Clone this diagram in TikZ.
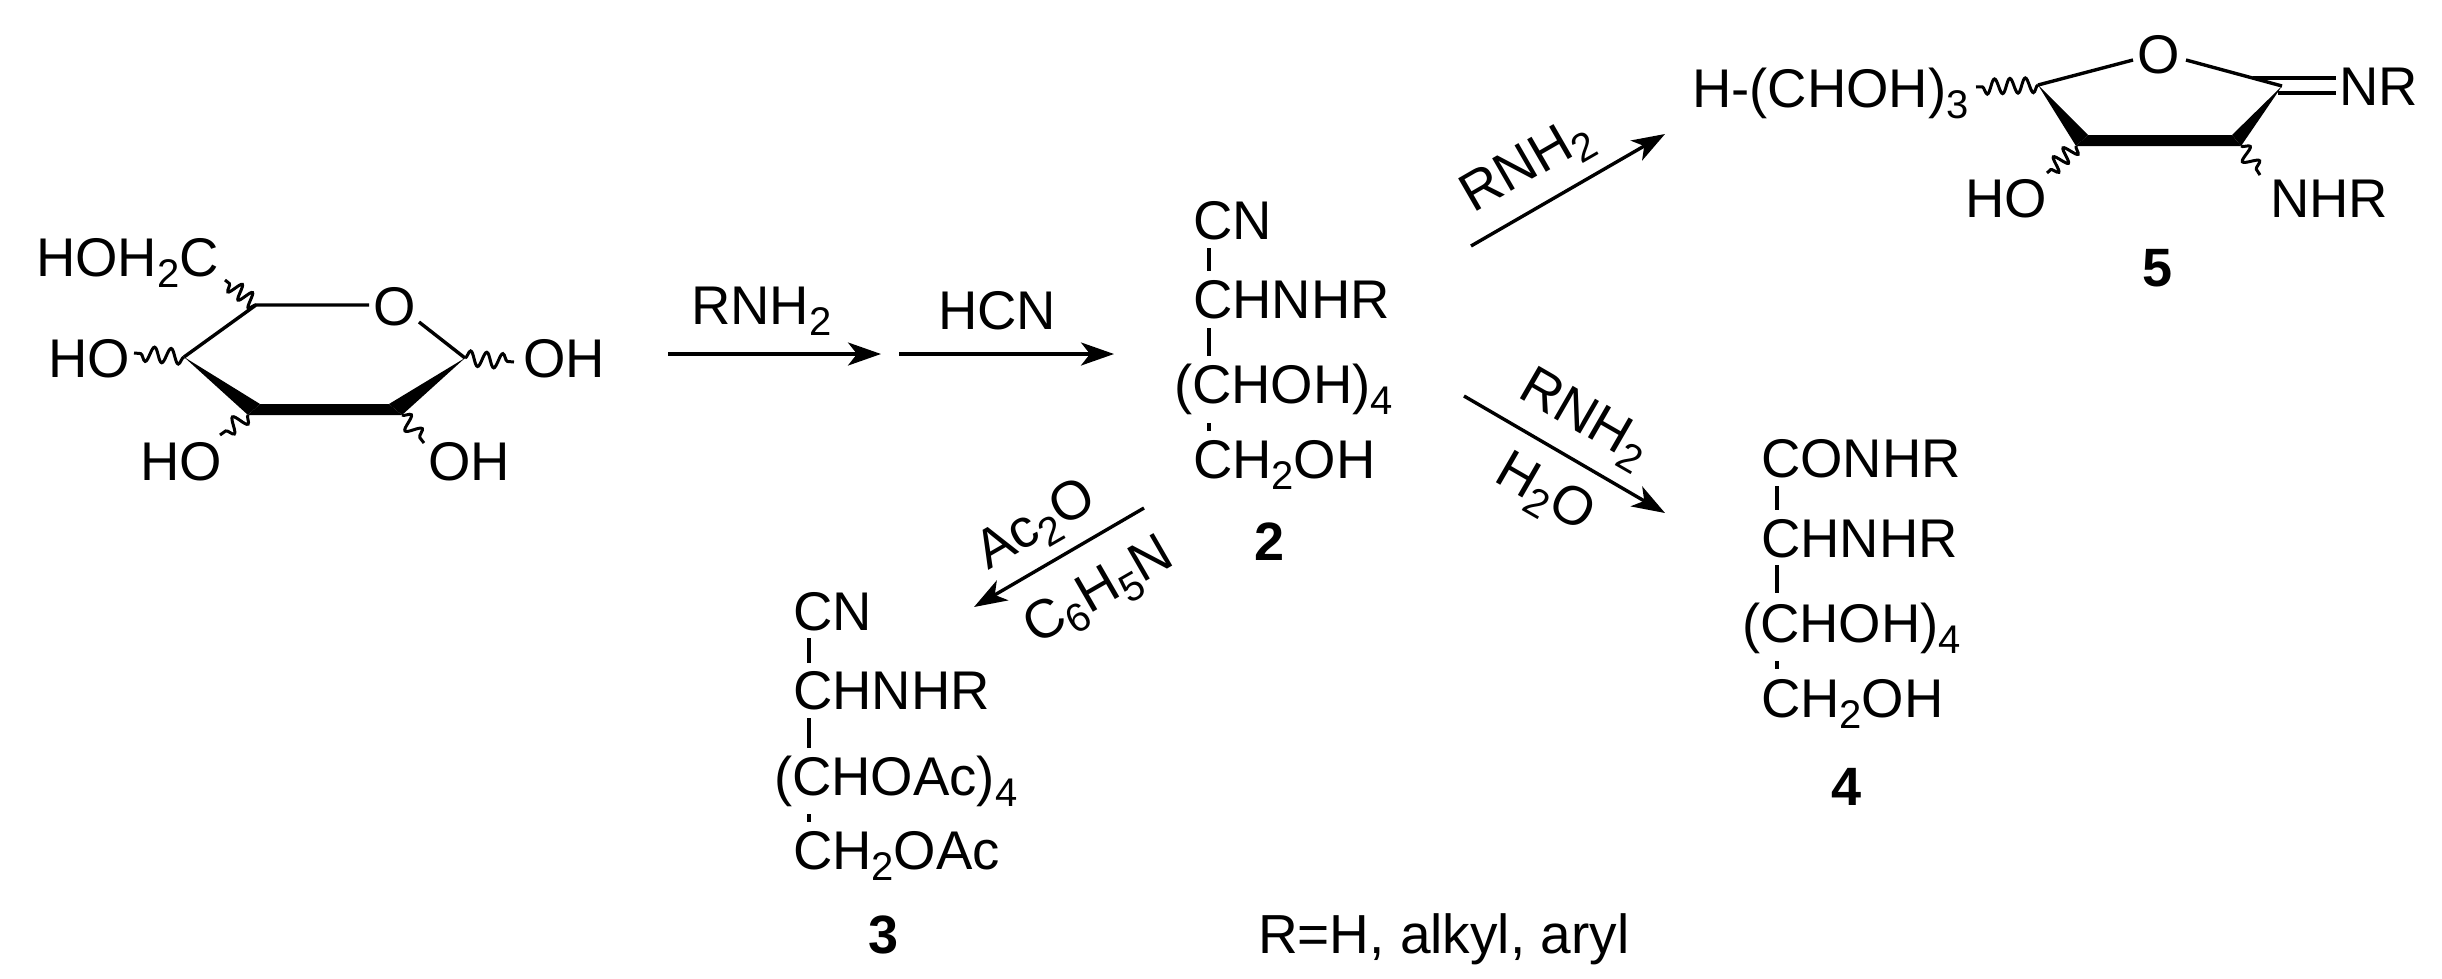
\documentclass[tikz,border=0pt]{standalone}
\usepackage{fontspec}
\setmainfont{Liberation Sans}
\usetikzlibrary{arrows.meta,decorations.pathmorphing}
\newcommand{\sbs}[1]{\raisebox{-11pt}{\fontsize{40}{40}\selectfont #1}}
\tikzset{
  chem/.style={inner sep=0pt,outer sep=0pt,anchor=base west,font=\fontsize{54.5}{60}\selectfont},
  numlabel/.style={inner sep=0pt,outer sep=0pt,anchor=base,font=\fontsize{54}{60}\selectfont\bfseries},
  reagent/.style={inner sep=0pt,outer sep=0pt,anchor=center,font=\fontsize{54.5}{60}\selectfont},
  bond/.style={line width=3.4pt,black},
  wavy/.style={line width=3pt,black,decorate,decoration={snake,segment length=#1,amplitude=7.5pt}},
  rxn/.style={line width=3.4pt,black,-{Stealth[length=33pt,width=23pt,inset=9pt]}},
  wedge/.style={fill=black,draw=none}
}
\begin{document}
\begin{tikzpicture}[x=1pt,y=-1pt]
\useasboundingbox (0,0) rectangle (2442,978);
\fill[white] (0,0) rectangle (2442,978);

% --- pyranose
\coordinate (g5) at (256,305);
\coordinate (g4) at (184,357);
\coordinate (g1) at (465,358);
\coordinate (g3t) at (260,404);
\coordinate (g3b) at (248,415);
\coordinate (g2t) at (389,404);
\coordinate (g2b) at (402,415);
\coordinate (gOl) at (369,305);
\coordinate (gOr) at (419,322);
\coordinate (w5) at (225,280);
\coordinate (w4) at (134,353);
\coordinate (w1) at (514,362);
\coordinate (w3) at (220,435);
\coordinate (w2) at (424,443);
\node[chem] (hoh2c) at (36,276) {HOH\sbs{2}C};
\node[chem,anchor=base] (gO) at (395,325) {O};
\node[chem] (ho4) at (48,377) {HO};
\node[chem] (oh1) at (523,377) {OH};
\node[chem] (ho3) at (140,480) {HO};
\node[chem] (oh2) at (428,480) {OH};
\draw[bond] (g4) -- (g5) -- (gOl);
\draw[bond] (gOr) -- (g1);
\fill[wedge] (g4) -- (g3t) -- (g3b) -- cycle;
\fill[wedge] (g3t) -- (g2t) -- (g2b) -- (g3b) -- cycle;
\fill[wedge] (g1) -- (g2b) -- (g2t) -- cycle;
\draw[wavy=13pt] (g5) -- (w5);
\draw[wavy=16.6pt] (g4) -- (w4);
\draw[wavy=16.2pt] (g1) -- (w1);
\draw[wavy=16.9pt] (g3b) -- (w3);
\draw[wavy=17.7pt] (g2b) -- (w2);

% --- first arrows
\coordinate (a1s) at (668,354);
\coordinate (a1e) at (881,354);
\coordinate (a2s) at (899,354);
\coordinate (a2e) at (1114,354);
\draw[rxn] (a1s) -- (a1e);
\draw[rxn] (a2s) -- (a2e);
\node[chem] (rnh2a) at (691,324) {RNH\sbs{2}};
\node[chem] (hcn) at (938,329) {HCN};

% --- compound 2
\node[chem] (c2a) at (1193,239) {CN};
\node[chem] (c2b) at (1193,318) {CHNHR};
\node[chem,anchor=base west] (c2c) at (1174,403) {(CHOH)\sbs{4}};
\node[chem] (c2d) at (1193,478) {CH\sbs{2}OH};
\node[numlabel] (n2) at (1270,560) {2};
\coordinate (b2a) at (1209,248); \coordinate (b2b) at (1209,271);
\coordinate (b2c) at (1209,328); \coordinate (b2d) at (1209,356);
\coordinate (b2e) at (1209,423); \coordinate (b2f) at (1209,431);
\draw[bond] (b2a) -- (b2b);
\draw[bond] (b2c) -- (b2d);
\draw[bond] (b2e) -- (b2f);

% --- to 3
\coordinate (a3s) at (1144,508);
\coordinate (a3e) at (974,607);
\draw[rxn] (a3s) -- (a3e);
\node[reagent,rotate=30] (ac2o) at (1037,527) {Ac\sbs{2}O};
\node[reagent,rotate=30] (c6h5n) at (1100,593) {C\sbs{6}H\sbs{5}N};

% --- compound 3
\node[chem] (c3a) at (793,630) {CN};
\node[chem] (c3b) at (793,709) {CHNHR};
\node[chem] (c3c) at (774,795) {(CHOAc)\sbs{4}};
\node[chem] (c3d) at (793,869) {CH\sbs{2}OAc};
\node[numlabel] (n3) at (884,953) {3};
\coordinate (b3a) at (809,638); \coordinate (b3b) at (809,663);
\coordinate (b3c) at (809,718); \coordinate (b3d) at (809,748);
\coordinate (b3e) at (809,814); \coordinate (b3f) at (809,822);
\draw[bond] (b3a) -- (b3b);
\draw[bond] (b3c) -- (b3d);
\draw[bond] (b3e) -- (b3f);

% --- to 4
\coordinate (a4s) at (1464,396);
\coordinate (a4e) at (1665,513);
\draw[rxn] (a4s) -- (a4e);
\node[reagent,rotate=-30] (rnh2c) at (1584,420) {RNH\sbs{2}};
\node[reagent,rotate=-30] (h2o) at (1544,495) {H\sbs{2}O};

% --- compound 4
\node[chem] (c4a) at (1761,477) {CONHR};
\node[chem] (c4b) at (1761,557) {CHNHR};
\node[chem] (c4c) at (1742,642) {(CHOH)\sbs{4}};
\node[chem] (c4d) at (1761,717) {CH\sbs{2}OH};
\node[numlabel] (n4) at (1846,805) {4};
\coordinate (b4a) at (1777,486); \coordinate (b4b) at (1777,510);
\coordinate (b4c) at (1777,565); \coordinate (b4d) at (1777,593);
\coordinate (b4e) at (1777,661); \coordinate (b4f) at (1777,669);
\draw[bond] (b4a) -- (b4b);
\draw[bond] (b4c) -- (b4d);
\draw[bond] (b4e) -- (b4f);

% --- to 5
\coordinate (a5s) at (1471,246);
\coordinate (a5e) at (1665,134);
\draw[rxn] (a5s) -- (a5e);
\node[reagent,rotate=30] (rnh2b) at (1528,167) {RNH\sbs{2}};

% --- compound 5
\coordinate (f4) at (2038,85);
\coordinate (f1) at (2282,86);
\coordinate (f3t) at (2088,135);
\coordinate (f3b) at (2076,146);
\coordinate (f2t) at (2232,135);
\coordinate (f2b) at (2241,146);
\coordinate (fOl) at (2133,60);
\coordinate (fOr) at (2186,60);
\coordinate (dbu) at (2253,78);
\coordinate (dbue) at (2336,78);
\coordinate (dbl) at (2278,93);
\coordinate (dble) at (2336,93);
\coordinate (v4) at (1976,87);
\coordinate (v3) at (2047,173);
\coordinate (v2) at (2260,175);
\node[chem] (hchoh) at (1692,107) {H-(CHOH)\sbs{3}};
\node[chem,anchor=base] (fO) at (2159,73) {O};
\node[chem] (nr) at (2339,105) {NR};
\node[chem] (ho5) at (1965,217) {HO};
\node[chem] (nhr5) at (2270,217) {NHR};
\node[numlabel] (n5) at (2157,286) {5};
\draw[bond] (f4) -- (fOl);
\draw[bond] (fOr) -- (f1);
\draw[bond] (dbu) -- (dbue);
\draw[bond] (dbl) -- (dble);
\fill[wedge] (f4) -- (f3t) -- (f3b) -- cycle;
\fill[wedge] (f3t) -- (f2t) -- (f2b) -- (f3b) -- cycle;
\fill[wedge] (f1) -- (f2b) -- (f2t) -- cycle;
\draw[wavy=15.4pt] (f4) -- (v4);
\draw[wavy=13.2pt] (f3b) -- (v3);
\draw[wavy=17.2pt] (f2b) -- (v2);

% --- footnote
\node[chem,font=\fontsize{55}{60}\selectfont] (note) at (1258,953) {R=H, alkyl, aryl};
\end{tikzpicture}
\end{document}
